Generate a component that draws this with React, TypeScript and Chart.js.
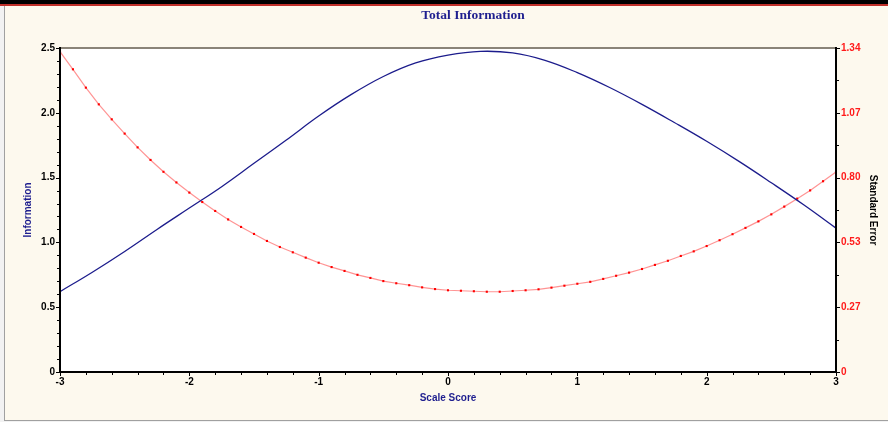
import React, { useEffect, useRef } from 'react';
import { Chart, registerables } from 'chart.js';

Chart.register(...registerables);

// ---- Data ----
const chartTitle = 'Total Information';
const xTitle = 'Scale Score';
const leftTitle = 'Information';
const rightTitle = 'Standard Error';

// Total information curve (blue, left axis)
const infoTheta = [-3, -2.75, -2.5, -2.25, -2, -1.75, -1.5, -1.25, -1, -0.75, -0.5, -0.25, 0, 0.25, 0.5, 0.75, 1, 1.25, 1.5, 1.75, 2, 2.25, 2.5, 2.75, 3];
const infoValues = [0.62, 0.77, 0.93, 1.1, 1.265, 1.43, 1.61, 1.79, 1.975, 2.14, 2.28, 2.385, 2.445, 2.474, 2.462, 2.405, 2.31, 2.195, 2.065, 1.925, 1.78, 1.625, 1.46, 1.29, 1.11];

// Standard error curve (red, right axis)
const seTheta = [-3, -2.9, -2.8, -2.7, -2.6, -2.5, -2.4, -2.3, -2.2, -2.1, -2, -1.9, -1.8, -1.7, -1.6, -1.5, -1.4, -1.3, -1.2, -1.1, -1, -0.9, -0.8, -0.7, -0.6, -0.5, -0.4, -0.3, -0.2, -0.1, 0, 0.1, 0.2, 0.3, 0.4, 0.5, 0.6, 0.7, 0.8, 0.9, 1, 1.1, 1.2, 1.3, 1.4, 1.5, 1.6, 1.7, 1.8, 1.9, 2, 2.1, 2.2, 2.3, 2.4, 2.5, 2.6, 2.7, 2.8, 2.9, 3];
const seValues = [1.325, 1.252, 1.176, 1.107, 1.045, 0.986, 0.929, 0.877, 0.828, 0.784, 0.742, 0.703, 0.666, 0.631, 0.6, 0.571, 0.542, 0.517, 0.495, 0.473, 0.452, 0.434, 0.418, 0.402, 0.389, 0.376, 0.367, 0.359, 0.35, 0.343, 0.338, 0.336, 0.334, 0.332, 0.332, 0.335, 0.338, 0.342, 0.349, 0.357, 0.365, 0.373, 0.385, 0.398, 0.411, 0.426, 0.443, 0.46, 0.48, 0.499, 0.521, 0.545, 0.57, 0.596, 0.623, 0.652, 0.684, 0.717, 0.751, 0.789, 0.827];

// Tick values / labels
const xTickValues = [-3, -2, -1, 0, 1, 2, 3];
const xTickLabels = ['-3', '-2', '-1', '0', '1', '2', '3'];
const leftTickValues = [0, 0.5, 1, 1.5, 2, 2.5];
const leftTickLabels = ['0', '0.5', '1.0', '1.5', '2.0', '2.5'];
const rightTickValues = [0, 0.268, 0.536, 0.804, 1.072, 1.34];
const rightTickLabels = ['0', '0.27', '0.53', '0.80', '1.07', '1.34'];
const xMinorStep = 0.2;
const leftMinorStep = 0.1;
const rightMinorStep = 0.134;

const W = 888;
const H = 422;
const CREAM = '#fdf9ee';
const NAVY = '#1f1f8f';
const FONT = '"Liberation Sans", Arial, sans-serif';

const framePlugin = {
  id: 'frame',
  beforeDraw(chart: any) {
    const { ctx, chartArea: a } = chart;
    ctx.save();
    ctx.fillStyle = CREAM;
    ctx.fillRect(0, 0, W, H);
    ctx.fillStyle = '#f2f2f2';
    ctx.fillRect(0, 0, 4, H);
    ctx.fillRect(0, 421, W, H - 421);
    ctx.fillStyle = '#a0a0a0';
    ctx.fillRect(4, 0, 1, 421);
    ctx.fillRect(4, 420, W, 1);
    ctx.fillStyle = '#000000';
    ctx.fillRect(0, 0, W, 4);
    ctx.fillStyle = '#c0302a';
    ctx.fillRect(0, 4, W, 2);
    // plot background
    ctx.fillStyle = '#ffffff';
    ctx.fillRect(a.left, a.top, a.right - a.left, a.bottom - a.top);
    // title
    ctx.fillStyle = NAVY;
    ctx.font = 'bold 13.5px "Liberation Serif", "Times New Roman", serif';
    ctx.textAlign = 'center';
    ctx.textBaseline = 'middle';
    ctx.fillText(chartTitle, 473, 16);
    ctx.restore();
  },
  afterDatasetsDraw(chart: any) {
    const { ctx, chartArea: a, scales } = chart;
    const xs = scales.x;
    const yl = scales.y;
    const yr = scales.y2;
    ctx.save();
    // top border
    ctx.fillStyle = '#8a8478';
    ctx.fillRect(a.left, a.top - 1, a.right - a.left, 2);
    // axis lines
    ctx.fillStyle = '#000000';
    ctx.fillRect(a.left - 1, a.top - 1, 2, a.bottom - a.top + 2);
    ctx.fillRect(a.left - 1, a.bottom - 1, a.right - a.left + 2, 2);
    ctx.fillRect(a.right - 1, a.top - 1, 2, a.bottom - a.top + 2);
    ctx.strokeStyle = '#000000';
    ctx.lineWidth = 1;
    ctx.beginPath();
    // bottom ticks
    for (let k = 0; k <= 30; k++) {
      const v = xs.min + k * xMinorStep;
      const px = Math.round(xs.getPixelForValue(v)) + 0.5;
      const len = k % 5 === 0 ? 4 : 3;
      ctx.moveTo(px, a.bottom);
      ctx.lineTo(px, a.bottom + len);
    }
    // left ticks
    for (let k = 0; k <= 25; k++) {
      const v = k * leftMinorStep;
      const py = Math.round(yl.getPixelForValue(v)) + 0.5;
      const len = k % 5 === 0 ? 4 : 3;
      ctx.moveTo(a.left, py);
      ctx.lineTo(a.left - len, py);
    }
    // right ticks
    for (let k = 0; k <= 10; k++) {
      const v = k * rightMinorStep;
      const py = Math.round(yr.getPixelForValue(v)) + 0.5;
      const len = k % 2 === 0 ? 4 : 3;
      ctx.moveTo(a.right, py);
      ctx.lineTo(a.right + len, py);
    }
    ctx.stroke();
    ctx.restore();
  },
};

export default function App() {
  const ref = useRef<HTMLCanvasElement | null>(null);
  useEffect(() => {
    if (!ref.current) return;
    const chart = new Chart(ref.current, {
      type: 'line',
      data: {
        datasets: [
          {
            label: 'Information',
            data: infoTheta.map((t, i) => ({ x: t, y: infoValues[i] })),
            yAxisID: 'y',
            borderColor: '#1c1c8c',
            borderWidth: 1.3,
            pointRadius: 0,
            tension: 0.4,
            fill: false,
          },
          {
            label: 'Standard Error',
            data: seTheta.map((t, i) => ({ x: t, y: seValues[i] })),
            yAxisID: 'y2',
            borderColor: 'rgba(255,60,60,0.55)',
            borderWidth: 1.2,
            pointStyle: 'rect',
            pointRadius: 1.5,
            pointBackgroundColor: '#ff0000',
            pointBorderColor: '#ff0000',
            pointBorderWidth: 0,
            tension: 0,
            fill: false,
          },
        ],
      },
      options: {
        responsive: false,
        devicePixelRatio: 1,
        animation: false,
        events: [],
        layout: { padding: { top: 48, left: 0, right: 0, bottom: 0 } },
        plugins: { legend: { display: false }, title: { display: false }, tooltip: { enabled: false } },
        scales: {
          x: {
            type: 'linear',
            position: 'bottom',
            min: -3,
            max: 3,
            afterBuildTicks: (s: any) => { s.ticks = xTickValues.map((v) => ({ value: v })); },
            afterFit: (s: any) => { s.height = 50; },
            grid: { display: false, drawTicks: true, tickLength: 3 },
            border: { display: false },
            ticks: {
              padding: 1,
              color: '#000000',
              font: { family: FONT, size: 10, weight: 'bold' },
              callback: (_v: any, i: number) => xTickLabels[i],
              maxRotation: 0,
              autoSkip: false,
            },
            title: {
              display: true,
              text: xTitle,
              color: NAVY,
              font: { family: FONT, size: 10, weight: 'bold' },
              padding: { top: 0, bottom: 18 },
            },
          },
          y: {
            type: 'linear',
            position: 'left',
            min: 0,
            max: 2.5,
            afterBuildTicks: (s: any) => { s.ticks = leftTickValues.map((v) => ({ value: v })); },
            afterFit: (s: any) => { s.width = 60; },
            grid: { display: false, drawTicks: true, tickLength: 3 },
            border: { display: false },
            ticks: {
              padding: 2,
              color: '#000000',
              font: { family: FONT, size: 10, weight: 'bold' },
              callback: (_v: any, i: number) => leftTickLabels[i],
              autoSkip: false,
            },
            title: {
              display: true,
              text: leftTitle,
              color: NAVY,
              font: { family: FONT, size: 10, weight: 'bold' },
              padding: { top: 22, bottom: 0 },
            },
          },
          y2: {
            type: 'linear',
            position: 'right',
            min: 0,
            max: 1.34,
            afterBuildTicks: (s: any) => { s.ticks = rightTickValues.map((v) => ({ value: v })); },
            afterFit: (s: any) => { s.width = 52; },
            grid: { display: false, drawTicks: true, tickLength: 3 },
            border: { display: false },
            ticks: {
              padding: 2,
              color: '#ff1a1a',
              font: { family: FONT, size: 10, weight: 'bold' },
              callback: (_v: any, i: number) => rightTickLabels[i],
              autoSkip: false,
            },
            title: {
              display: true,
              text: rightTitle,
              color: '#000000',
              font: { family: FONT, size: 10, weight: 'bold' },
              padding: { top: 9, bottom: 0 },
            },
          },
        },
      } as any,
      plugins: [framePlugin],
    });
    return () => chart.destroy();
  }, []);

  return (
    <div style={{ position: 'absolute', left: 0, top: 0, width: W, height: H }}>
      <canvas ref={ref} width={W} height={H} style={{ display: 'block', width: W, height: H }} />
    </div>
  );
}
